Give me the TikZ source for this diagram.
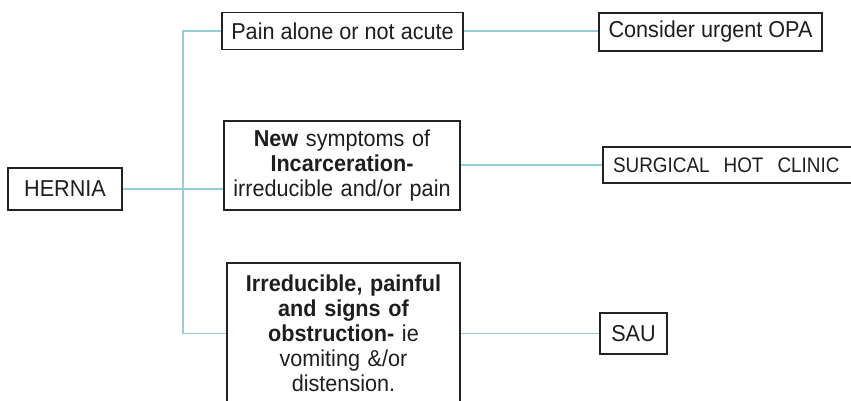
\documentclass[tikz,border=0pt]{standalone}
\usepackage{fontspec}
\setmainfont[FakeStretch=0.94]{Liberation Sans}
\newfontfamily\condensed[FakeStretch=0.9]{Liberation Sans}
\definecolor{conn}{RGB}{150,205,215}
\definecolor{edge}{RGB}{35,35,35}
\definecolor{ink}{RGB}{30,30,30}
\begin{document}
\begin{tikzpicture}[x=1pt,y=-1pt,
 box/.style={draw=edge, line width=1.3pt, inner sep=0pt, align=center, text=ink, font=\fontsize{23}{25}\selectfont},
 link/.style={draw=conn, line width=1.2pt}]
\useasboundingbox (0,0) rectangle (851,401);
\clip (0,0) rectangle (851,401);
\node[box, minimum width=114pt, minimum height=42pt] (hernia) at (65,189) {HERNIA};
\node[box, minimum width=241pt, minimum height=37pt] (pain) at (342.5,31) {Pain alone or not acute};
\node[box, text width=236pt, minimum height=89pt] (new) at (342,165.5) {\textbf{New} symptoms of\\\textbf{Incarceration-}\\irreducible and/or pain};
\node[box, text width=233pt, minimum height=141pt] (irred) at (343.5,333.5) {\textbf{Irreducible, painful}\\\textbf{and signs of}\\\textbf{obstruction-} ie\\vomiting \&/or\\distension.};
\node[box, minimum width=223pt, minimum height=38pt] (consider) at (710.5,32) {Consider urgent OPA};
\node[box, align=left, text width=252pt, inner xsep=10pt, minimum height=36pt, font=\condensed\fontsize{21}{24}\selectfont] (surg) at (739,165) {SURGICAL\ \ HOT\ \ CLINIC};
\node[box, minimum width=67pt, minimum height=41pt] (sau) at (633.5,333.5) {SAU};
\coordinate (tx) at (183,0);
\draw[link] (hernia.east) -- (hernia.east -| new.west);
\draw[link] (pain.west) -| (tx |- irred.west) -- (irred.west);
\draw[link] (pain.east) -- (pain.east -| consider.west);
\draw[link] (new.east |- surg.west) -- (surg.west);
\draw[link] (irred.east) -- (sau.west);
\end{tikzpicture}
\end{document}
